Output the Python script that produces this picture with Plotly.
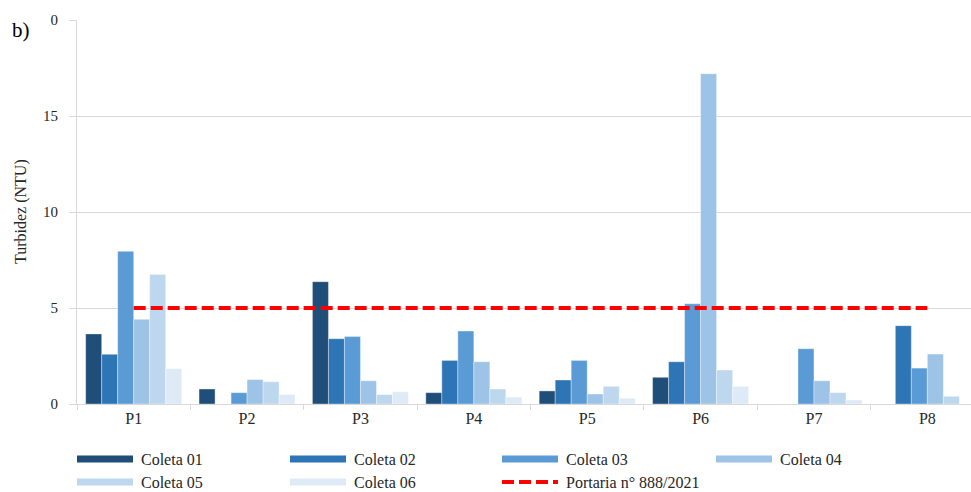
import plotly.graph_objects as go

# Sampling points and turbidity (NTU) per collection campaign
points = ["P1", "P2", "P3", "P4", "P5", "P6", "P7", "P8"]
coleta_01 = [3.65, 0.78, 6.37, 0.59, 0.68, 1.39, None, None]
coleta_02 = [2.59, None, 3.40, 2.27, 1.25, 2.20, None, 4.08]
coleta_03 = [7.95, 0.59, 3.51, 3.80, 2.27, 5.22, 2.88, 1.87]
coleta_04 = [4.41, 1.27, 1.21, 2.20, 0.52, 17.20, 1.21, 2.60]
coleta_05 = [6.75, 1.16, 0.49, 0.78, 0.92, 1.77, 0.59, 0.40]
coleta_06 = [1.84, 0.49, 0.64, 0.36, 0.30, 0.92, 0.21, None]
portaria_limit = [5, 5, 5, 5, 5, 5, 5, 5]

series_names = ["Coleta 01", "Coleta 02", "Coleta 03", "Coleta 04", "Coleta 05", "Coleta 06"]
series_values = [coleta_01, coleta_02, coleta_03, coleta_04, coleta_05, coleta_06]
series_colors = ["#1F4E79", "#2E75B6", "#5B9BD5", "#9DC3E6", "#BDD7EE", "#DEEBF7"]
limit_name = "Portaria n° 888/2021"

y_ticks = [0, 5, 10, 15, 20]
y_ticktext = ["0", "5", "10", "15", "0"]

W, H = 971, 492
ML, MR, MT, MB = 77, 0, 20, 88
PW, PH = W - ML - MR, H - MT - MB
SERIF = "Liberation Serif, Times New Roman, serif"
GRID = "#D9D9D9"


def px_x(x):
    return (x - ML) / PW


def px_y(y):
    return (H - MB - y) / PH


fig = go.Figure()
for name, vals, col in zip(series_names, series_values, series_colors):
    fig.add_trace(go.Bar(
        x=points, y=vals, name=name, marker_color=col,
        marker_line_width=0.6, marker_line_color="rgba(255,255,255,0.6)",
        showlegend=False,
    ))

fig.add_trace(go.Scatter(
    x=points, y=portaria_limit, mode="lines", name=limit_name,
    line=dict(color="#FF0000", width=4, dash="12px,5px"), showlegend=False,
))

# Legend drawn as long swatches in two rows of four entries
legend_cols = [77, 290, 502, 716]
legend_rows = [459, 482]
entries = [(n, c, "bar") for n, c in zip(series_names, series_colors)] + [(limit_name, "#FF0000", "dash")]
shapes = []
annotations = []
for i, (name, col, kind) in enumerate(entries):
    x0 = legend_cols[i % 4]
    yc = legend_rows[i // 4]
    if kind == "bar":
        shapes.append(dict(type="rect", xref="paper", yref="paper",
                           x0=px_x(x0), x1=px_x(x0 + 56), y0=px_y(yc + 3.5), y1=px_y(yc - 3.5),
                           fillcolor=col, line_width=0))
    else:
        shapes.append(dict(type="line", xref="paper", yref="paper",
                           x0=px_x(x0), x1=px_x(x0 + 56), y0=px_y(yc), y1=px_y(yc),
                           line=dict(color=col, width=4, dash="12px,5px")))
    annotations.append(dict(text=name, xref="paper", yref="paper", x=px_x(x0 + 62), y=px_y(yc),
                            xanchor="left", yanchor="middle", showarrow=False,
                            font=dict(family=SERIF, size=16, color="#262626")))

annotations.append(dict(text="b)", xref="paper", yref="paper", x=px_x(10), y=px_y(30),
                        xanchor="left", yanchor="middle", showarrow=False,
                        font=dict(family=SERIF, size=21, color="#000000")))
annotations.append(dict(text="Turbidez (NTU)", xref="paper", yref="paper", x=px_x(21), y=px_y(212),
                        xanchor="center", yanchor="middle", textangle=-90, showarrow=False,
                        font=dict(family=SERIF, size=16, color="#262626")))

fig.update_layout(
    width=W, height=H,
    margin=dict(l=ML, r=MR, t=MT, b=MB),
    paper_bgcolor="white", plot_bgcolor="white",
    barmode="group", bargap=0.153, bargroupgap=0,
    showlegend=False,
    shapes=shapes, annotations=annotations,
    font=dict(family=SERIF, size=15, color="#262626"),
)
fig.update_xaxes(
    range=[-0.5, 7.385], showgrid=False, showline=True, linecolor=GRID, linewidth=1,
    ticks="outside", tickson="boundaries", ticklen=5, tickcolor=GRID,
    tickfont=dict(family=SERIF, size=16, color="#262626"),
)
fig.update_yaxes(
    range=[0, 20], tickvals=y_ticks, ticktext=y_ticktext,
    showgrid=True, gridcolor=GRID, gridwidth=1,
    showline=True, linecolor=GRID, linewidth=1, zeroline=False,
    ticks="outside", ticklen=7, tickcolor=GRID, ticklabelstandoff=8,
    tickfont=dict(family=SERIF, size=15, color="#262626"),
)

fig.write_html("out.html")
